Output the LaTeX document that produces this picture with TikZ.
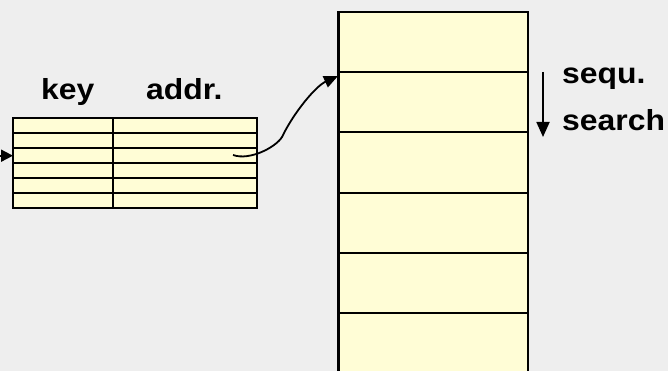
\documentclass[tikz,border=0pt]{standalone}
\usepackage{fontspec}
\setmainfont{Liberation Sans}
\usetikzlibrary{arrows.meta}
\definecolor{bg}{RGB}{238,238,238}
\definecolor{cell}{RGB}{255,253,214}
\begin{document}
\begin{tikzpicture}[x=1pt,y=-1pt,
  box/.style={draw=black,fill=cell,line width=2.2pt},
  rule/.style={draw=black,line width=2.2pt},
  trule/.style={draw=black,line width=1.8pt},
  lbl/.style={font=\fontsize{29}{34}\selectfont\bfseries, inner sep=0pt, anchor=base west},
  arr/.style={line width=1.8pt,-{Triangle[length=14pt,width=12pt]}}]
\fill[bg] (0,0) rectangle (668,371);
\useasboundingbox (0,0) rectangle (668,371);
\clip (0,0) rectangle (668,371);
% storage column
\draw[box] (338.5,12) rectangle (528,400);
\foreach \y in {72,132,193,253,313} \draw[rule] (338.5,\y) -- (528,\y);
% index table
\draw[box,line width=1.8pt] (13,117.7) rectangle (257,208.3);
\foreach \y in {132.8,148,163,178,193.2} \draw[trule] (13,\y) -- (257,\y);
\draw[trule] (113,117.7) -- (113,208.3);
% labels
\node[lbl] (key) at (41,100) {\scalebox{1.1}[1]{key}};
\node[lbl] (addr) at (146,100) {\scalebox{1.1}[1]{addr.}};
\node[lbl] (sequ) at (562,84) {\scalebox{1.1}[1]{sequ.}};
\node[lbl] (search) at (562,131) {\scalebox{1.1}[1]{search}};
% arrows
\coordinate (in0) at (0,155.7);
\coordinate (tblin) at (13,155.7);
\draw[arr,-{Triangle[length=12pt,width=12pt]}] (in0) -- (tblin);
\coordinate (cs) at (233,155);
\coordinate (cm) at (282,137);
\coordinate (ce) at (338,76);
\draw[arr] (cs) .. controls (250,161) and (276,147) .. (cm) .. controls (294,112) and (316,86) .. (ce);
\coordinate (sa) at (543,72);
\coordinate (sb) at (543,137);
\draw[arr,-{Triangle[length=15pt,width=13pt]}] (sa) -- (sb);
\end{tikzpicture}
\end{document}
